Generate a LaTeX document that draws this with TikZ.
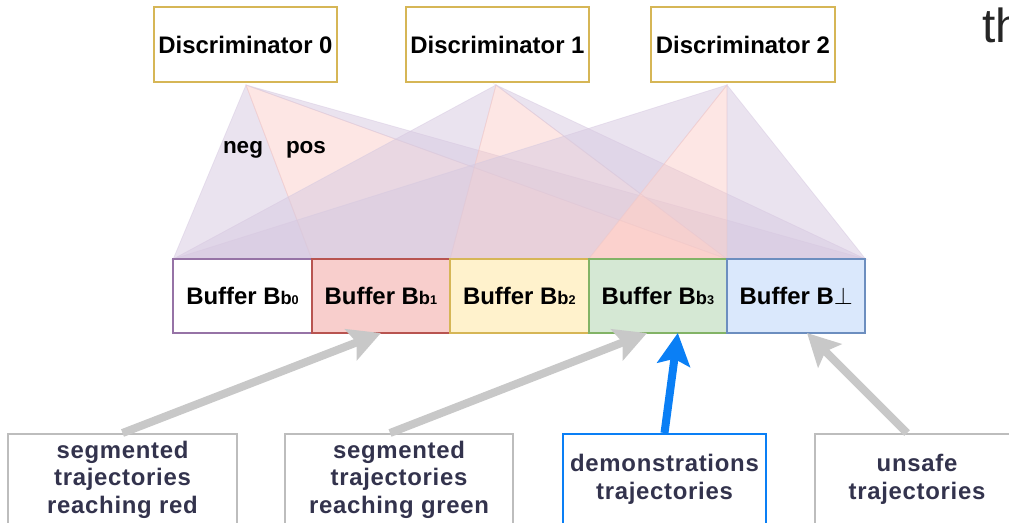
\documentclass[tikz,border=0pt]{standalone}
\usepackage{fontspec}
\setmainfont{Liberation Sans}
\usetikzlibrary{positioning,arrows.meta,backgrounds}

\definecolor{discgold}{HTML}{D6B656}
\definecolor{negfill}{HTML}{D6C8E0}
\definecolor{posfill}{HTML}{FAC8C3}
\definecolor{srcgray}{HTML}{BDBDBD}
\definecolor{feedgray}{HTML}{C8C8C8}
\definecolor{demoblue}{HTML}{0A7FF5}
\definecolor{srctext}{HTML}{33334D}

\newcommand{\bufidx}[2]{{\fontsize{13}{13}\selectfont #1}{\fontsize{9}{9}\selectfont #2}}

\tikzset{
  disc/.style={draw=discgold, line width=1.4pt, fill=white, inner sep=0pt,
    minimum width=4.575cm, minimum height=1.875cm,
    font=\fontsize{17}{20}\selectfont\bfseries},
  buf/.style={line width=1.4pt, inner sep=0pt, outer sep=0pt,
    minimum width=3.46cm, minimum height=1.85cm,
    font=\fontsize{17}{20}\selectfont\bfseries},
  src/.style={draw=srcgray, line width=1.4pt, fill=white, align=center,
    text=srctext, minimum width=5.7cm, minimum height=2.275cm,
    font=\fontsize{17}{19.5}\selectfont\bfseries\addfontfeatures{LetterSpace=3}},
  feed/.style={draw=feedgray, line width=0.2cm,
    -{Stealth[length=0.8cm, width=0.82cm, inset=0.15cm]}},
  negfan/.style={fill=negfill, draw=negfill, fill opacity=0.5, draw opacity=0.5, line width=0.6pt},
  posfan/.style={fill=posfill, draw=posfill, fill opacity=0.45, draw opacity=0.45, line width=0.6pt},
  fanlabel/.style={anchor=base, inner sep=0pt, font=\fontsize{16}{16}\selectfont\bfseries}
}

\begin{document}
\begin{tikzpicture}[x=0.025cm, y=-0.025cm]
  \useasboundingbox (0,0) rectangle (1009,522);

  % Discriminators
  \node[disc] (d0) at (245.5,44.5) {Discriminator 0};
  \node[disc] (d1) at (497.5,44.5) {Discriminator 1};
  \node[disc] (d2) at (743,44.5) {Discriminator 2};
  \node[anchor=base west, inner sep=0pt, text=black!85, font=\fontsize{34}{34}\selectfont] (cut) at (982,42) {th};

  % Buffers
  \node[buf, draw={rgb,255:red,150;green,115;blue,166}, fill=white] (b0) at (242.5,296) {Buffer B\bufidx{b}{0}};
  \node[buf, draw={rgb,255:red,184;green,84;blue,80}, fill={rgb,255:red,248;green,206;blue,204}, right=0pt of b0] (b1) {Buffer B\bufidx{b}{1}};
  \node[buf, draw=discgold, fill={rgb,255:red,255;green,242;blue,204}, right=0pt of b1] (b2) {Buffer B\bufidx{b}{2}};
  \node[buf, draw={rgb,255:red,130;green,179;blue,102}, fill={rgb,255:red,213;green,232;blue,212}, right=0pt of b2] (b3) {Buffer B\bufidx{b}{3}};
  \node[buf, draw={rgb,255:red,108;green,142;blue,191}, fill={rgb,255:red,218;green,232;blue,252}, right=0pt of b3] (bot) {Buffer B{\fontsize{18}{18}\selectfont$\bot$}};

  % fans from each discriminator down to the buffers
  \coordinate (a0) at (246,85);
  \coordinate (a1) at (496,85);
  \coordinate (a2) at (727,85);
  \begin{scope}[on background layer]
    \path[negfan] (a0) -- (b0.north west) -- (b0.north east) -- cycle;
    \path[posfan] (a0) -- (b1.north west) -- (b3.north east) -- cycle;
    \path[negfan] (a0) -- (bot.north west) -- (bot.north east) -- cycle;
    \path[negfan] (a1) -- (b0.north west) -- (b1.north east) -- cycle;
    \path[posfan] (a1) -- (b2.north west) -- (b3.north east) -- cycle;
    \path[negfan] (a1) -- (bot.north west) -- (bot.north east) -- cycle;
    \path[negfan] (a2) -- (b0.north west) -- (b2.north east) -- cycle;
    \path[posfan] (a2) -- (b3.north west) -- (b3.north east) -- cycle;
    \path[negfan] (a2) -- (bot.north west) -- (bot.north east) -- cycle;
  \end{scope}
  \node[fanlabel] (neg) at (243,153) {neg};
  \node[fanlabel] (pos) at (306,153) {pos};

  % Sources of trajectories
  \node[src, minimum width=5.725cm] (s0) at (122.5,479.5) {segmented\\trajectories\\reaching red};
  \node[src] (s1) at (399,479.5) {segmented\\trajectories\\reaching green};
  \node[src, draw=demoblue, minimum width=5.075cm] (s2) at (664.5,479.5) {demonstrations\\trajectories};
  \node[src, minimum width=5.1cm] (s3) at (917,479.5) {unsafe\\trajectories};

  \draw[feed] (s0.north) -- (b1.south);
  \draw[feed] ([xshift=-0.225cm]s1.north) -- ([xshift=-0.27cm]b3.south);
  \draw[feed, draw=demoblue] (s2.north) -- ([xshift=0.5cm]b3.south);
  \draw[feed] ([xshift=-0.25cm]s3.north) -- ([xshift=0.27cm]bot.south);
\end{tikzpicture}
\end{document}
